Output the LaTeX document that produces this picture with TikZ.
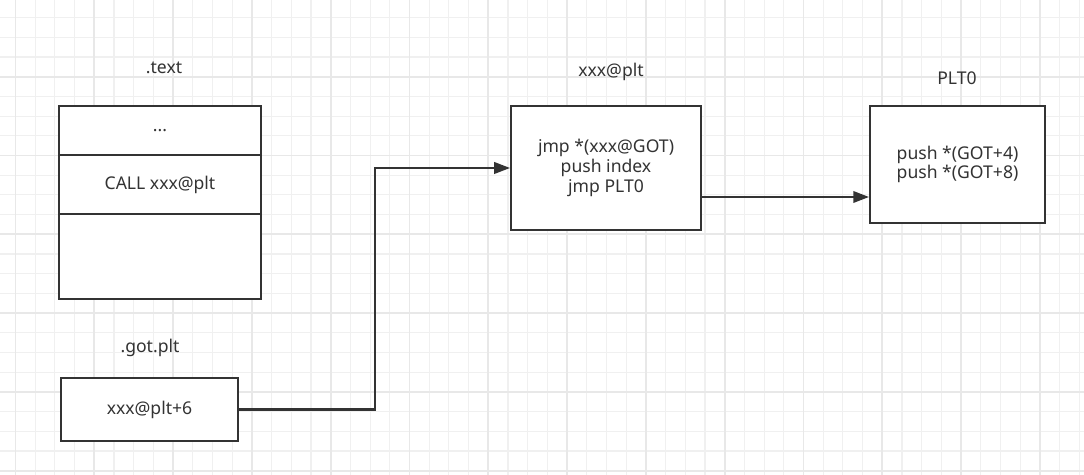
\documentclass[tikz,border=0pt]{standalone}
\usepackage{fontspec}
\setmainfont{Noto Sans}
\usetikzlibrary{calc,arrows.meta,positioning}
\definecolor{ink}{HTML}{333333}
\definecolor{gridminor}{HTML}{F0F0F0}
\definecolor{gridmajor}{HTML}{E8E8E8}
\tikzset{
  box/.style={draw=ink,line width=1.1pt,fill=white,text=ink,align=center,inner sep=0pt},
  cell/.style={box,minimum width=4.04cm,outer sep=0pt},
  title/.style={text=ink,inner sep=0pt},
  arr/.style={draw=ink,line width=1.3pt,-{Triangle[length=9pt,width=6.5pt]}},
}

\begin{document}
\begin{tikzpicture}[x=0.02cm,y=-0.02cm,font=\fontsize{10}{11.3}\selectfont]
    \useasboundingbox (0,0) rectangle (1084,475);
    \fill[white] (0,0) rectangle (1084,475);
    % background grid
    \foreach \i in {0,...,54}
      \draw[gridminor,line width=0.6pt] ({15.5+19.7*\i},0)--({15.5+19.7*\i},475);
    \foreach \j in {1,...,24}
      \draw[gridminor,line width=0.6pt] (0,{-2.1+19.7*\j})--(1084,{-2.1+19.7*\j});
    \foreach \i in {0,...,13}
      \draw[gridmajor,line width=1pt] ({15.5+78.8*\i},0)--({15.5+78.8*\i},475);
    \foreach \j in {1,...,6}
      \draw[gridmajor,line width=1pt] (0,{-2.1+78.8*\j})--(1084,{-2.1+78.8*\j});
    \begin{scope}
      % .text section
      \node[title] (textlbl) at (164,68) {.text};
      \node[cell,minimum height=0.98cm] (dots) at (160,130.5) {...};
      \node[cell,minimum height=1.18cm,below=0pt of dots] (call) {CALL xxx@plt};
      \node[cell,minimum height=1.7cm,below=0pt of call] (rest) {};
      % .got.plt entry
      \node[title] (gotlbl) at (150,348) {.got.plt};
      \node[box,minimum width=3.54cm,minimum height=1.26cm] (got) at (149.5,409.5) {xxx@plt+6};
      % plt stub
      \node[title] (pltlbl) at (611,72) {xxx@plt};
      \node[box,minimum width=3.8cm,minimum height=2.48cm] (plt) at (606,168) {jmp *(xxx@GOT)\\push index\\jmp PLT0};
      % PLT0
      \node[title] (plt0lbl) at (957,78) {PLT0};
      \node[box,minimum width=3.5cm,minimum height=2.34cm] (plt0) at (957.5,164.5) {push *(GOT+4)\\push *(GOT+8)};
      % connectors
      \coordinate (bend) at (375,0);
      \coordinate (jmp) at (0,197);
      \draw[arr] (got.east) -| (bend |- plt.west) -- (plt.west);
      \draw[arr] (plt.east |- jmp) -- (plt0.west |- jmp);
    \end{scope}
\end{tikzpicture}
\end{document}
